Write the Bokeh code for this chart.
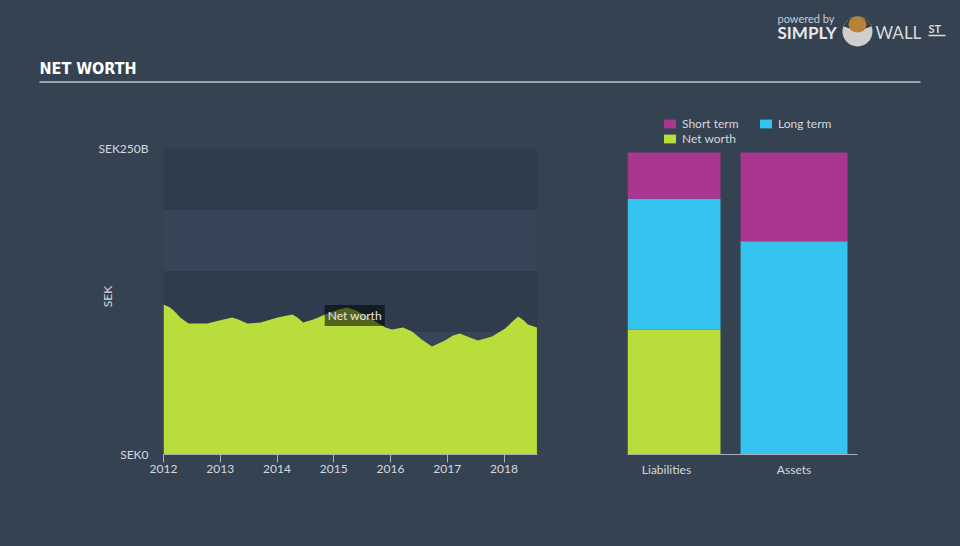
import math
from bokeh.plotting import figure
from bokeh.models import Range1d, FixedTicker, Label, Legend, LegendItem, BoxAnnotation
from bokeh.layouts import column, row
from bokeh.embed import file_html
from bokeh.resources import INLINE
from bokeh.core.properties import value

# ---------------- data ----------------
years = [2012.00, 2012.10, 2012.18, 2012.30, 2012.44, 2012.77, 2013.00, 2013.21, 2013.32,
         2013.48, 2013.71, 2014.01, 2014.27, 2014.36, 2014.46, 2014.64, 2014.89,
         2015.10, 2015.24, 2015.40, 2015.59, 2015.91, 2016.03, 2016.22, 2016.38,
         2016.55, 2016.73, 2016.96, 2017.10, 2017.22, 2017.44, 2017.54, 2017.79,
         2018.02, 2018.15, 2018.25, 2018.35, 2018.42, 2018.58]
net_worth = [122.5, 120.6, 117.6, 111.8, 107.0, 107.0, 109.6, 111.9, 110.3,
             107.0, 107.8, 111.9, 114.4, 111.9, 107.8, 110.3, 115.2,
             118.6, 120.1, 117.5, 112.7, 103.8, 102.1, 103.8, 100.5,
             94.0, 88.2, 93.1, 97.3, 98.9, 94.8, 93.1, 96.4,
             102.9, 108.6, 112.7, 109.4, 106.2, 103.8]
year_ticks = [2012, 2013, 2014, 2015, 2016, 2017, 2018]
y_ticks = [0, 250]
y_tick_labels = {0: "SEK0", 250: "SEK250B"}
band_edges = [0, 50, 100, 150, 200, 250]

bar_categories = ["Liabilities", "Assets"]
liab_net_worth = 103.8
liab_long_term = 108.5
liab_short_term = 38.5
asset_long_term = 177.1
asset_short_term = 73.7

# ---------------- style ----------------
BG = "#344252"
DARK = "#2e3c4d"
LIGHT = "#364658"
GREEN = "#b9dd3a"
CYAN = "#34c3ee"
MAGENTA = "#a9378f"
AXIS = "#a8afb8"
TEXT = "#d5d9de"
FONT = "Lato"

HDR_H = 95
PLOT_H = 451
TOP = 10          # frame top border (both lower figures)
BOTTOM = 92       # frame bottom border
FRAME_H = PLOT_H - TOP - BOTTOM
AREA_PX = 306     # pixel height of 0..250 on the area chart
BAR_PX = 302      # pixel height of the bar stacks

# ---------------- header ----------------
hdr = figure(width=960, height=HDR_H, x_range=Range1d(0, 960), y_range=Range1d(HDR_H, 0),
             x_axis_type=None, y_axis_type=None, min_border=0,
             background_fill_color=None, border_fill_color=None, outline_line_color=None,
             output_backend="svg", toolbar_location=None)
hdr.grid.visible = False
hdr.text(x=[39], y=[68], text=["NET WORTH"],
         text_font=value("DejaVu Sans Condensed, Roboto, sans-serif"),
         text_font_size="16px", text_font_style="bold", text_baseline="middle",
         text_color="#ffffff")
hdr.line([39, 920], [81.5, 81.5], line_color="#9aa2ab", line_width=2)
# logo
hdr.text(x=[777], y=[18], text=["powered by"], text_font=value(FONT), text_font_size="11px",
         text_baseline="middle", text_color="#c9cdd2")
hdr.text(x=[777], y=[32], text=["SIMPLY"], text_font=value(FONT), text_font_size="17px",
         text_font_style="bold", text_baseline="middle", text_color="#e6e8ea")
hdr.circle(x=[857], y=[31], radius=15, fill_color="#cfcfcf", line_color=None)
hdr.wedge(x=[857], y=[31], radius=15, start_angle=math.radians(20), end_angle=math.radians(160),
          fill_color="#3b3b3b", line_color=None)
hdr.ellipse(x=[857], y=[24], width=18, height=16, fill_color="#b8823a", line_color=None)
hdr.text(x=[875], y=[32], text=["WALL"], text_font=value(FONT), text_font_size="17px",
         text_baseline="middle", text_color="#d8dadd")
hdr.text(x=[928], y=[28], text=["ST"], text_font=value(FONT), text_font_size="11px",
         text_font_style="bold", text_baseline="middle", text_color="#d8dadd")
hdr.line([928, 945], [35, 35], line_color="#d8dadd", line_width=1.5)

# ---------------- area chart ----------------
p1 = figure(width=580, height=PLOT_H, x_range=Range1d(2012, 2018.59),
            y_range=Range1d(0, 250 * FRAME_H / AREA_PX),
            min_border_left=163, min_border_right=43, min_border_top=TOP, min_border_bottom=BOTTOM,
            background_fill_color=None, border_fill_color=None, outline_line_color=None,
            output_backend="svg", toolbar_location=None)
p1.grid.visible = False

# alternating background bands, darkest at the bottom
for i in range(len(band_edges) - 1):
    p1.add_layout(BoxAnnotation(bottom=band_edges[i], top=band_edges[i + 1],
                                fill_color=DARK if i % 2 == 0 else LIGHT, fill_alpha=1,
                                line_color=None, level="underlay"))

p1.varea(x=years, y1=0, y2=net_worth, fill_color=GREEN)

p1.yaxis.ticker = FixedTicker(ticks=y_ticks)
p1.yaxis.major_label_overrides = y_tick_labels
p1.yaxis.axis_line_color = None
p1.yaxis.major_tick_line_color = None
p1.yaxis.minor_tick_line_color = None
p1.yaxis.major_tick_out = 0
p1.yaxis.major_label_standoff = 15
p1.yaxis.major_label_text_color = TEXT
p1.yaxis.major_label_text_font = FONT
p1.yaxis.major_label_text_font_size = "12px"
p1.yaxis.axis_label = "SEK\u2003\u2003\u2003\u2002"
p1.yaxis.axis_label_standoff = -20
p1.yaxis.axis_label_text_color = TEXT
p1.yaxis.axis_label_text_font = FONT
p1.yaxis.axis_label_text_font_size = "12px"
p1.yaxis.axis_label_text_font_style = "normal"

p1.xaxis.ticker = FixedTicker(ticks=year_ticks)
p1.xaxis.axis_line_color = AXIS
p1.xaxis.major_tick_line_color = AXIS
p1.xaxis.minor_tick_line_color = None
p1.xaxis.major_tick_out = 8
p1.xaxis.major_tick_in = 0
p1.xaxis.major_label_standoff = 2
p1.xaxis.major_label_text_color = TEXT
p1.xaxis.major_label_text_font = FONT
p1.xaxis.major_label_text_font_size = "12px"

p1.add_layout(Label(x=2015.37, y=113.5, text="Net worth", text_align="center",
                    text_baseline="middle", text_color="#e6e6e6", text_font=FONT,
                    text_font_size="12px", background_fill_color="black",
                    background_fill_alpha=0.55, padding=3))

# ---------------- bar chart ----------------
total = asset_long_term + asset_short_term
p2 = figure(width=380, height=PLOT_H, x_range=Range1d(0, 2),
            y_range=Range1d(0, total * FRAME_H / BAR_PX),
            y_axis_location=None,
            min_border_left=47, min_border_right=103, min_border_top=TOP, min_border_bottom=BOTTOM,
            background_fill_color=None, border_fill_color=None, outline_line_color=None,
            output_backend="svg", toolbar_location=None)
p2.grid.visible = False

LIAB_X, LIAB_W = 0.404, 0.809
ASSET_X, ASSET_W = 1.448, 0.930
LABEL_X = [0.339, 1.448]

r_nw = p2.vbar(x=LIAB_X, width=LIAB_W, bottom=0, top=liab_net_worth,
               fill_color=GREEN, line_color=None)
r_llt = p2.vbar(x=LIAB_X, width=LIAB_W, bottom=liab_net_worth,
                top=liab_net_worth + liab_long_term, fill_color=CYAN, line_color=None)
r_lst = p2.vbar(x=LIAB_X, width=LIAB_W, bottom=liab_net_worth + liab_long_term,
                top=liab_net_worth + liab_long_term + liab_short_term,
                fill_color=MAGENTA, line_color=None)
p2.vbar(x=ASSET_X, width=ASSET_W, bottom=0, top=asset_long_term,
        fill_color=CYAN, line_color=None)
p2.vbar(x=ASSET_X, width=ASSET_W, bottom=asset_long_term, top=total,
        fill_color=MAGENTA, line_color=None)

p2.xaxis.ticker = FixedTicker(ticks=LABEL_X)
p2.xaxis.major_label_overrides = {LABEL_X[0]: bar_categories[0], LABEL_X[1]: bar_categories[1]}
p2.xaxis.axis_line_color = AXIS
p2.xaxis.major_tick_line_color = None
p2.xaxis.minor_tick_line_color = None
p2.xaxis.major_tick_out = 0
p2.xaxis.major_tick_in = 0
p2.xaxis.major_label_standoff = 7
p2.xaxis.major_label_text_color = TEXT
p2.xaxis.major_label_text_font = FONT
p2.xaxis.major_label_text_font_size = "12px"

legend_style = dict(glyph_width=15, glyph_height=11, label_standoff=5, spacing=0,
                    padding=0, margin=0, background_fill_alpha=0, border_line_alpha=0,
                    label_text_color=TEXT, label_text_font=FONT,
                    label_text_font_size="12px", label_height=11)
leg_a = Legend(items=[LegendItem(label="Short term", renderers=[r_lst]),
                      LegendItem(label="Net worth", renderers=[r_nw])],
               location=(35, 308), **legend_style)
leg_b = Legend(items=[LegendItem(label="Long term", renderers=[r_llt])],
               location=(131, 323), **legend_style)
p2.add_layout(leg_a)
p2.add_layout(leg_b)

layout = column(hdr, row(p1, p2), styles={"background-color": BG})
open("out.html", "w").write(file_html(layout, INLINE))
